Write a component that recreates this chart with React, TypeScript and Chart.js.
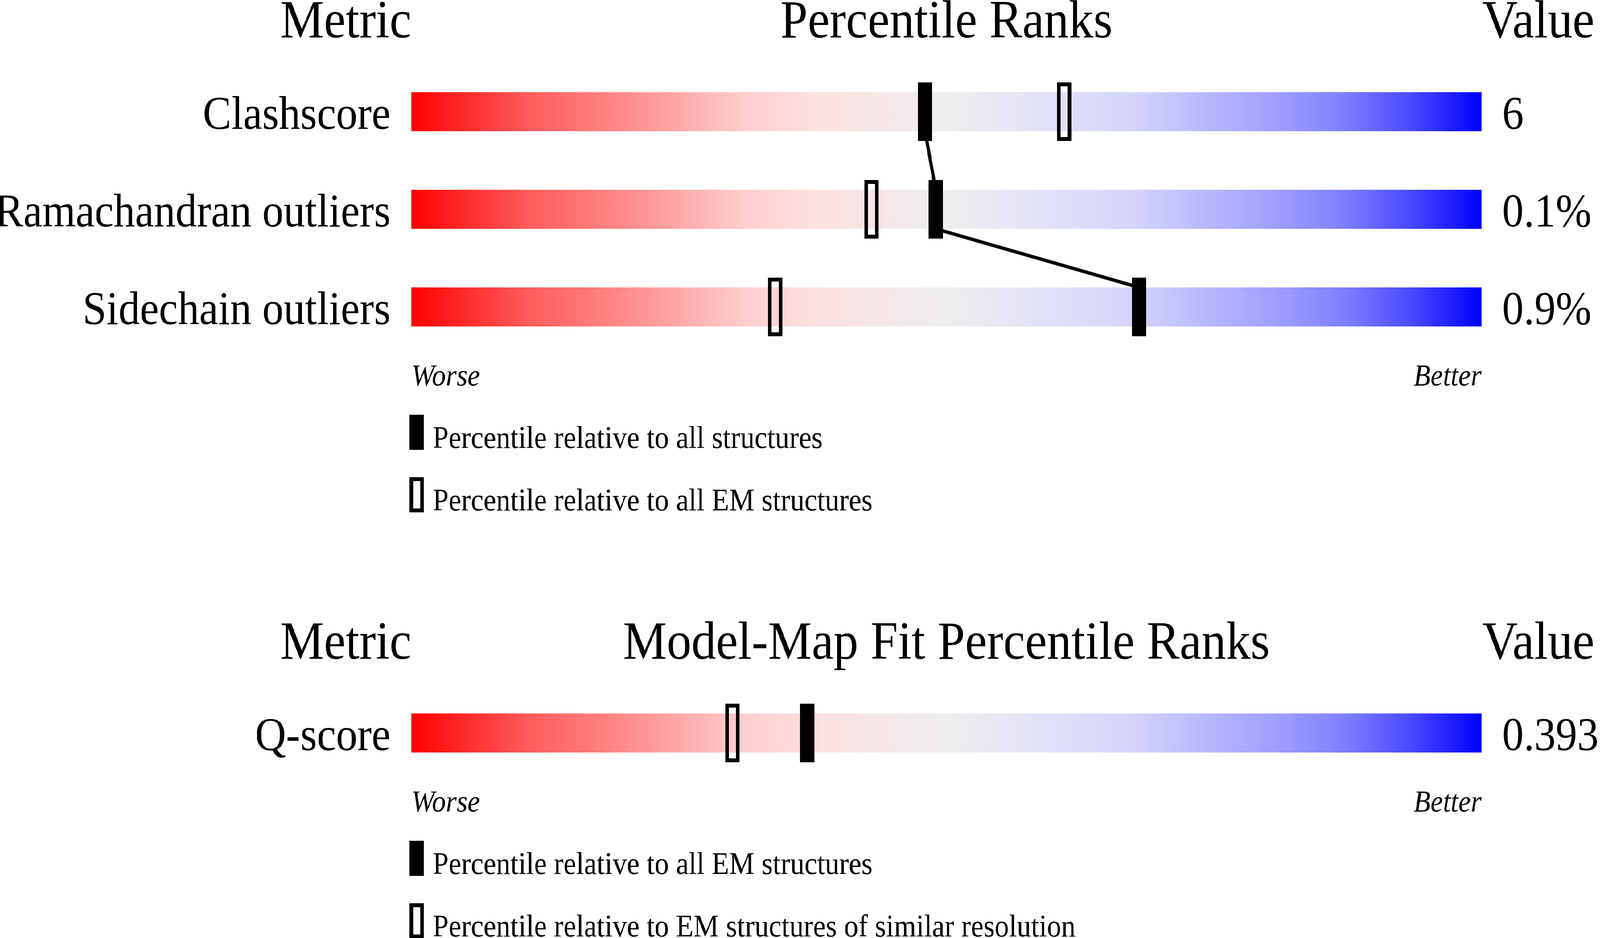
import React, { useEffect, useRef, useState } from "react";
import Chart from "chart.js/auto";

// values
const qualityMetrics = ["Clashscore", "Ramachandran outliers", "Sidechain outliers"];
const qualityValues = ["6", "0.1%", "0.9%"];
const qualityPctAll = [48, 49, 68];
const qualityPctEM = [61, 43, 34];

const fitMetrics = ["Q-score"];
const fitValues = ["0.393"];
const fitPctEM = [37];
const fitPctSimilarRes = [30];

const percentileRange: [number, number] = [0, 100];

// layout / style (in reference pixels)
const PAGE_W = 4485;
const PAGE_H = 2402;
const BAR_LEFT = 1153;
const BAR_RIGHT = 4153;
const AREA_TOP = 161;
const ROW_H = 250;
const BORDER = 10;
const SERIF = '"Liberation Serif", "Times New Roman", Times, serif';

const gradientStops: [number, string][] = [
  [0, "rgb(255,0,0)"],
  [0.11, "rgb(255,92,92)"],
  [0.18, "rgb(255,128,128)"],
  [0.25, "rgb(255,168,168)"],
  [0.31, "rgb(255,205,205)"],
  [0.375, "rgb(252,224,224)"],
  [0.5, "rgb(238,238,238)"],
  [0.615, "rgb(222,222,250)"],
  [0.675, "rgb(212,212,250)"],
  [0.74, "rgb(184,184,255)"],
  [0.805, "rgb(160,160,255)"],
  [0.87, "rgb(128,128,255)"],
  [0.935, "rgb(72,72,255)"],
  [1, "rgb(0,0,255)"],
];

const makeMarker = (w: number, h: number, filled: boolean) => {
  const c = document.createElement("canvas");
  c.width = w;
  c.height = h;
  const g = c.getContext("2d")!;
  g.fillStyle = "#000";
  g.fillRect(0, 0, w, h);
  if (!filled) g.clearRect(BORDER, BORDER, w - 2 * BORDER, h - 2 * BORDER);
  return c;
};

const sliderGradient = (chart: any) => {
  const x = chart.scales?.x;
  if (!chart.chartArea || !x) return "#eeeeee";
  const g = chart.ctx.createLinearGradient(
    x.getPixelForValue(percentileRange[0]), 0,
    x.getPixelForValue(percentileRange[1]), 0
  );
  gradientStops.forEach(([o, col]) => g.addColorStop(o, col));
  return g;
};

const sliderDecor = {
  id: "sliderDecor",
  beforeDatasetDraw(chart: any, args: any) {
    const ds = chart.data.datasets[args.index];
    if (!ds.connect) return;
    const pts = args.meta.data;
    const bars = chart.getDatasetMeta(0).data;
    const ctx = chart.ctx;
    ctx.save();
    ctx.strokeStyle = "#000";
    ctx.lineWidth = 9;
    ctx.beginPath();
    for (let i = 0; i + 1 < pts.length; i++) {
      const a = bars[i].getProps(["y", "height"], true);
      const b = bars[i + 1].getProps(["y", "height"], true);
      ctx.moveTo(pts[i].x, a.y + a.height / 2);
      ctx.lineTo(pts[i + 1].x, b.y - b.height / 2);
    }
    ctx.stroke();
    ctx.restore();
  },
  afterDraw(chart: any, _args: any, opts: any) {
    const { left, right, top, bottom } = chart.chartArea;
    const x = chart.scales.x;
    const ctx = chart.ctx;
    ctx.save();
    ctx.fillStyle = "#000";
    ctx.textBaseline = "alphabetic";

    // column headers
    ctx.font = `138px ${SERIF}`;
    ctx.textAlign = "right";
    ctx.fillText("Metric", left, top - 65);
    ctx.textAlign = "center";
    ctx.fillText(opts.title, x.getPixelForValue(50), top - 65);
    ctx.textAlign = "left";
    ctx.fillText("Value", right + 2, top - 65);

    // worse / better
    ctx.font = `italic 78px ${SERIF}`;
    ctx.textAlign = "left";
    ctx.fillText("Worse", x.getPixelForValue(percentileRange[0]), bottom + 76);
    ctx.textAlign = "right";
    ctx.fillText("Better", x.getPixelForValue(percentileRange[1]), bottom + 76);

    // legend
    const order = ["filled", "open"];
    ctx.font = `80px ${SERIF}`;
    ctx.textAlign = "left";
    order.forEach((kind, k) => {
      const ds = chart.data.datasets.find((d: any) => d.markerKind === kind);
      if (!ds) return;
      ctx.drawImage(makeMarker(40, 90, kind === "filled"), left - 5, bottom + 151 + k * 160);
      ctx.fillText(ds.label, left + 60, bottom + 236 + k * 160);
    });
    ctx.restore();
  },
};

type PanelProps = {
  title: string;
  metrics: string[];
  values: string[];
  filled: number[];
  open: number[];
  filledLabel: string;
  openLabel: string;
  top: number;
  height: number;
  pixelRatio: number;
};

const tickStyle = {
  font: { family: SERIF, size: 120 },
  color: "#000",
  padding: 50,
  labelOffset: 12,
  autoSkip: false,
};

const SliderPanel = (props: PanelProps) => {
  const chartRef = useRef<HTMLCanvasElement>(null);

  useEffect(() => {
    if (!chartRef.current) return;
    const { metrics, values, filled, open, title, height, pixelRatio } = props;
    const chart = new Chart(chartRef.current, {
      type: "bar",
      data: {
        labels: metrics,
        datasets: [
          {
            label: "range",
            data: metrics.map(() => percentileRange),
            backgroundColor: (c: any) => sliderGradient(c.chart),
            barPercentage: 0.4,
            categoryPercentage: 1,
            order: 2,
          },
          {
            type: "scatter",
            label: props.openLabel,
            markerKind: "open",
            data: open.map((p, i) => ({ x: p, y: metrics[i] })),
            pointStyle: makeMarker(40, 150, false),
            xAxisID: "x",
            yAxisID: "y",
            order: 1,
          },
          {
            type: "scatter",
            label: props.filledLabel,
            markerKind: "filled",
            connect: true,
            data: filled.map((p, i) => ({ x: p, y: metrics[i] })),
            pointStyle: makeMarker(40, 150, true),
            xAxisID: "x",
            yAxisID: "y",
            order: 0,
          },
        ] as any,
      },
      options: {
        indexAxis: "y",
        animation: false,
        responsive: true,
        maintainAspectRatio: false,
        devicePixelRatio: pixelRatio,
        events: [],
        layout: {
          autoPadding: false,
          padding: {
            top: AREA_TOP,
            bottom: height - AREA_TOP - ROW_H * metrics.length,
            left: 0,
            right: 0,
          },
        },
        scales: {
          x: { type: "linear", min: percentileRange[0], max: percentileRange[1], display: false },
          y: {
            type: "category",
            position: "left",
            offset: true,
            grid: { display: false },
            border: { display: false },
            ticks: tickStyle,
            afterFit: (s: any) => {
              s.width = BAR_LEFT;
            },
          },
          y2: {
            type: "category",
            axis: "y",
            position: "right",
            labels: values,
            offset: true,
            grid: { display: false },
            border: { display: false },
            ticks: tickStyle,
            afterFit: (s: any) => {
              s.width = PAGE_W - BAR_RIGHT;
            },
          },
        },
        plugins: {
          legend: { display: false },
          tooltip: { enabled: false },
          sliderDecor: { title },
        },
      } as any,
      plugins: [sliderDecor],
    });
    return () => {
      chart.destroy();
    };
  }, []);

  return (
    <div style={{ position: "absolute", left: 0, top: props.top, width: PAGE_W, height: props.height }}>
      <canvas ref={chartRef} />
    </div>
  );
};

export default function App() {
  // drawn in reference pixels, then fitted to the viewport
  const [fit] = useState(() => {
    const sx = window.innerWidth / PAGE_W;
    const sy = window.innerHeight / PAGE_H;
    return { sx, sy, ratio: (window.devicePixelRatio || 1) * Math.max(sx, sy) };
  });

  return (
    <div
      style={{
        position: "fixed",
        left: 0,
        top: 0,
        width: "100vw",
        height: "100vh",
        background: "#fff",
        overflow: "hidden",
      }}
    >
      <div
        style={{
          position: "absolute",
          left: 0,
          top: 0,
          width: PAGE_W,
          height: PAGE_H,
          transform: `scale(${fit.sx}, ${fit.sy})`,
          transformOrigin: "0 0",
        }}
      >
        <SliderPanel
          title="Percentile Ranks"
          metrics={qualityMetrics}
          values={qualityValues}
          filled={qualityPctAll}
          open={qualityPctEM}
          filledLabel="Percentile relative to all structures"
          openLabel="Percentile relative to all EM structures"
          top={0}
          height={1340}
          pixelRatio={fit.ratio}
        />
        <SliderPanel
          title="Model-Map Fit Percentile Ranks"
          metrics={fitMetrics}
          values={fitValues}
          filled={fitPctEM}
          open={fitPctSimilarRes}
          filledLabel="Percentile relative to all EM structures"
          openLabel="Percentile relative to EM structures of similar resolution"
          top={1591}
          height={811}
          pixelRatio={fit.ratio}
        />
      </div>
    </div>
  );
}
